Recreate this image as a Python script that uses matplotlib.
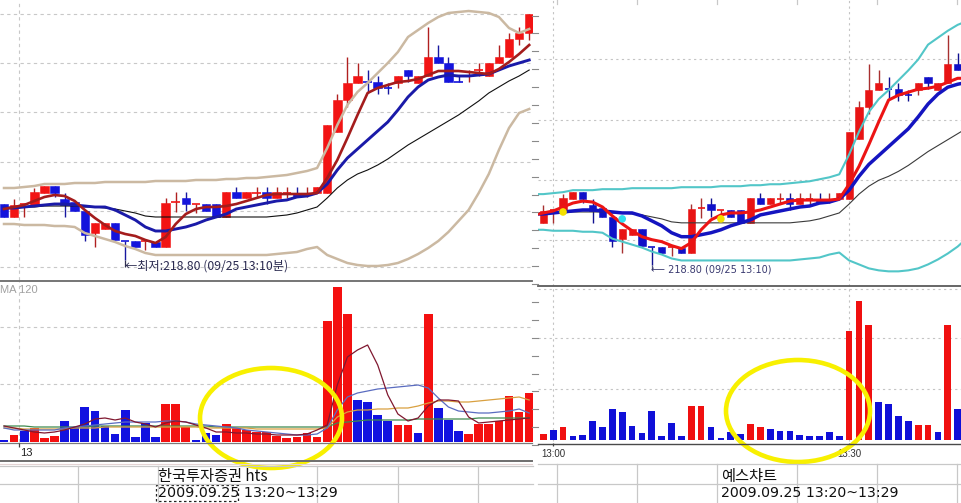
import matplotlib

matplotlib.use("Agg")

import matplotlib.pyplot as plt
import numpy as np
from matplotlib.patches import Ellipse, Rectangle

plt.rcParams["font.family"] = ["Noto Sans CJK KR", "DejaVu Sans"]

W, H = 961, 503

# one-minute KOSPI200 futures bars, 12:58 .. 13:50 (2009-09-25)
opens = [219.36, 219.23, 219.36, 219.35, 219.47, 219.54, 219.41, 219.38, 219.29, 219.07,
         219.11, 219.17, 218.99, 218.99, 218.99, 218.98, 218.93, 219.38, 219.42, 219.36,
         219.36, 219.36, 219.23, 219.48, 219.42, 219.47, 219.48, 219.42, 219.47, 219.47,
         219.45, 219.47, 219.47, 220.08, 220.40, 220.57, 220.58, 220.58, 220.52, 220.57,
         220.70, 220.57, 220.64, 220.83, 220.77, 220.58, 220.64, 220.70, 220.64, 220.77,
         220.83, 221.01, 221.07]
highs = [219.36, 219.41, 219.36, 219.52, 219.54, 219.54, 219.47, 219.38, 219.29, 219.17,
         219.17, 219.17, 218.99, 218.99, 218.99, 218.98, 219.42, 219.48, 219.48, 219.36,
         219.36, 219.36, 219.48, 219.53, 219.48, 219.53, 219.53, 219.53, 219.53, 219.53,
         219.53, 219.53, 220.15, 220.46, 220.83, 220.77, 220.70, 220.64, 220.57, 220.64,
         220.70, 220.64, 221.13, 220.95, 220.83, 220.64, 220.70, 220.77, 220.77, 220.95,
         221.07, 221.13, 221.26]
lows = [219.23, 219.23, 219.23, 219.35, 219.47, 219.43, 219.23, 219.29, 218.99, 218.93,
        219.11, 219.00, 218.80, 218.93, 218.90, 218.93, 218.93, 219.28, 219.29, 219.27,
        219.29, 219.23, 219.23, 219.42, 219.42, 219.42, 219.36, 219.42, 219.42, 219.43,
        219.43, 219.47, 219.47, 220.08, 220.33, 220.57, 220.47, 220.46, 220.46, 220.52,
        220.58, 220.57, 220.64, 220.77, 220.58, 220.58, 220.58, 220.64, 220.64, 220.77,
        220.83, 220.95, 221.00]
closes = [219.23, 219.35, 219.36, 219.48, 219.54, 219.47, 219.35, 219.29, 219.05, 219.17,
          219.17, 219.00, 218.99, 218.93, 218.99, 218.93, 219.37, 219.38, 219.36, 219.36,
          219.29, 219.23, 219.48, 219.42, 219.48, 219.47, 219.42, 219.48, 219.47, 219.43,
          219.45, 219.53, 220.15, 220.40, 220.57, 220.64, 220.58, 220.52, 220.52, 220.64,
          220.64, 220.64, 220.83, 220.77, 220.58, 220.58, 220.64, 220.70, 220.77, 220.83,
          221.01, 221.07, 221.26]
candle_colors = ["b", "r", "r", "r", "r", "b", "b", "b", "b", "r",
                 "r", "b", "b", "b", "r", "b", "r", "r", "b", "r",
                 "b", "b", "r", "b", "r", "r", "b", "r", "r", "b",
                 "r", "r", "r", "r", "r", "r", "b", "b", "b", "r",
                 "b", "r", "r", "b", "b", "b", "r", "r", "r", "r",
                 "r", "r", "r"]

ma_short = [219.31, 219.33, 219.35, 219.39, 219.43, 219.45, 219.44, 219.39, 219.30, 219.22,
            219.15, 219.09, 219.06, 219.04, 219.00, 218.97, 219.03, 219.16, 219.26, 219.31,
            219.33, 219.33, 219.34, 219.36, 219.39, 219.42, 219.45, 219.46, 219.46, 219.46,
            219.46, 219.47, 219.62, 219.80, 220.02, 220.25, 220.47, 220.52, 220.55, 220.58,
            220.59, 220.61, 220.65, 220.69, 220.69, 220.69, 220.68, 220.67, 220.66, 220.71,
            220.78, 220.86, 220.95]
ma_mid = [219.32, 219.32, 219.33, 219.34, 219.35, 219.36, 219.36, 219.35, 219.34, 219.33,
          219.33, 219.30, 219.25, 219.20, 219.13, 219.09, 219.09, 219.11, 219.13, 219.16,
          219.20, 219.23, 219.26, 219.31, 219.33, 219.35, 219.37, 219.39, 219.40, 219.43,
          219.44, 219.47, 219.56, 219.70, 219.82, 219.91, 220.00, 220.09, 220.18, 220.30,
          220.43, 220.53, 220.60, 220.63, 220.65, 220.64, 220.64, 220.65, 220.66, 220.70,
          220.74, 220.77, 220.80]
ma_long = [219.32, 219.32, 219.33, 219.33, 219.34, 219.34, 219.34, 219.34, 219.33, 219.33,
           219.32, 219.31, 219.29, 219.27, 219.24, 219.23, 219.23, 219.23, 219.23, 219.23,
           219.23, 219.23, 219.23, 219.23, 219.23, 219.23, 219.23, 219.24, 219.25, 219.27,
           219.30, 219.33, 219.42, 219.52, 219.60, 219.66, 219.70, 219.75, 219.81, 219.88,
           219.95, 220.01, 220.07, 220.13, 220.19, 220.25, 220.32, 220.39, 220.47, 220.53,
           220.59, 220.64, 220.70]
band_upper = [219.52, 219.52, 219.53, 219.54, 219.56, 219.56, 219.56, 219.57, 219.57, 219.57,
              219.58, 219.58, 219.58, 219.58, 219.58, 219.59, 219.59, 219.59, 219.59, 219.60,
              219.60, 219.60, 219.61, 219.61, 219.62, 219.62, 219.63, 219.64, 219.65, 219.67,
              219.69, 219.72, 219.92, 220.15, 220.35, 220.48, 220.57, 220.67, 220.77, 220.88,
              221.03, 221.10, 221.17, 221.23, 221.27, 221.28, 221.29, 221.28, 221.27, 221.23,
              221.12, 221.07, 221.11]
band_lower = [219.16, 219.16, 219.15, 219.15, 219.15, 219.14, 219.14, 219.13, 219.07, 219.04,
              219.01, 218.98, 218.94, 218.91, 218.87, 218.85, 218.85, 218.85, 218.85, 218.85,
              218.85, 218.85, 218.85, 218.85, 218.85, 218.85, 218.85, 218.86, 218.87, 218.88,
              218.91, 218.93, 218.85, 218.81, 218.77, 218.75, 218.74, 218.74, 218.75, 218.77,
              218.81, 218.86, 218.92, 218.99, 219.08, 219.19, 219.30, 219.47, 219.66, 219.90,
              220.12, 220.27, 220.31]

volume = [200, 700, 1100, 1400, 400, 600, 2100, 1500, 3500, 3100,
          1600, 800, 3200, 500, 1900, 500, 3800, 3800, 1500, 200,
          900, 700, 1800, 1400, 1200, 1000, 1000, 600, 400, 500,
          900, 500, 12100, 15500, 12800, 4200, 4000, 2700, 2100, 1700,
          1700, 900, 12800, 3400, 2200, 1100, 800, 1800, 1800, 2100,
          4600, 3000, 4900]
# hts colours (left) and yeschart colours (right, bars 12:59..13:41)
left_vol_colors = ["b", "r", "b", "r", "r", "r", "b", "b", "b", "b",
                   "b", "b", "b", "b", "b", "b", "r", "r", "r", "b",
                   "b", "b", "r", "r", "r", "r", "r", "r", "r", "r",
                   "r", "r", "r", "r", "r", "b", "b", "b", "b", "r",
                   "r", "b", "r", "b", "b", "b", "r", "r", "r", "r",
                   "r", "r", "r"]
right_vol_colors = ["r", "b", "r", "b", "b",
                    "b", "b", "b", "b", "b", "b", "b", "b", "b", "b",
                    "r", "r", "b", "b", "b", "b", "r", "r",
                    "b", "b", "b", "b", "b", "b", "b", "b",
                    "r", "r", "r", "b", "b", "b", "b", "r", "r", "b", "r", "b"]

vol_ma5 = [1600, 1400, 1200, 1000, 900, 1000, 1200, 1500, 1800, 2300,
           2400, 2200, 2400, 2000, 1800, 1500, 1900, 2100, 2000, 1700,
           1400, 1000, 1000, 900, 900, 800, 800, 700, 700, 700,
           800, 1200, 1700, 5700, 8500, 9200, 9700, 7700, 4700, 2800,
           2100, 2400, 3600, 4200, 4200, 4100, 2500, 1900, 2000, 2100,
           2200, 2300, 2400]
vol_ma10 = [1400, 1200, 1200, 1200, 1200, 1200, 1400, 1500, 1600, 1700,
            1800, 1900, 2000, 2000, 2000, 2000, 2100, 2100, 2000, 1800,
            1700, 1600, 1500, 1400, 1200, 1100, 1000, 900, 800, 700,
            700, 800, 1400, 3200, 4500, 4900, 5100, 5300, 5400, 5500,
            5600, 5700, 5400, 4400, 3500, 3100, 3000, 2900, 2900, 3000,
            3100, 3300, 2900]
vol_ma20 = [1400, 1400, 1300, 1300, 1300, 1300, 1300, 1400, 1400, 1400,
            1500, 1500, 1500, 1500, 1500, 1500, 1500, 1500, 1500, 1500,
            1400, 1400, 1400, 1400, 1400, 1300, 1300, 1300, 1300, 1300,
            1300, 1300, 1400, 2500, 3000, 3200, 3200, 3300, 3300, 3400,
            3400, 3600, 3900, 4100, 4100, 4000, 4000, 4100, 4200, 4300,
            4400, 4500, 4200]
vol_ma60 = [1600, 1600, 1600, 1500, 1500, 1500, 1500, 1500, 1500, 1600,
            1600, 1600, 1600, 1600, 1600, 1600, 1600, 1600, 1600, 1600,
            1600, 1500, 1500, 1500, 1500, 1500, 1500, 1500, 1500, 1500,
            1500, 1500, 1500, 1900, 2000, 2100, 2200, 2200, 2200, 2200,
            2200, 2300, 2300, 2300, 2300, 2300, 2300, 2400, 2400, 2400,
            2400, 2400, 2400]

cross_idx = [3, 9, 19]
cross_price = [219.34, 219.27, 219.27]
cross_colors = ["#f4e000", "#30e0f0", "#f4e000"]

low_idx = 12
left_price_grid = [221.26, 220.77, 220.28, 219.78, 219.29, 218.73]
right_price_grid = [220.88, 220.27, 219.66, 219.06]
left_vol_grid = [11500, 5800]
right_vol_grid = [16800, 11300, 5700]
left_hour_x = 1.45
right_time_idx = [2, 32]
right_time_labels = ["13:00", "13:30"]


def px_axes(fig, x0, y0, x1, y1):
    ax = fig.add_axes([x0 / W, 1 - y1 / H, (x1 - x0) / W, (y1 - y0) / H])
    ax.axis("off")
    return ax


def draw_candles(ax, idx, width, body, wick):
    for i in idx:
        o, h, l, c = opens[i], highs[i], lows[i], closes[i]
        k = candle_colors[i]
        ax.vlines(i, l, h, color=wick[k], lw=1, zorder=2)
        if abs(c - o) < 0.005:
            ax.hlines(o, i - width / 2, i + width / 2, color=body[k], lw=1.2, zorder=3)
        else:
            ax.bar(i, abs(c - o), bottom=min(o, c), width=width, color=body[k],
                   edgecolor=body[k], lw=0.4, zorder=3)


fig = plt.figure(figsize=(W / 100, H / 100), dpi=100)
fig.patch.set_facecolor("white")
idx_all = np.arange(len(opens))

# ---------------- left: hts ----------------
ax_lp = px_axes(fig, 0, 0, 533, 280)
ax_lp.set_xlim((0 - 4) / 10.1, (533 - 4) / 10.1)
ax_lp.set_ylim(218.60, 221.40)
for g in left_price_grid:
    ax_lp.axhline(g, color="#c8c8c8", lw=0.8, ls=(0, (3, 3)), zorder=0)
ax_lp.axvline(left_hour_x, color="#c8c8c8", lw=0.8, ls=(0, (3, 3)), zorder=0)
draw_candles(ax_lp, idx_all, 0.84,
             {"r": "#f21414", "b": "#1414dc"}, {"r": "#b02020", "b": "#1818a0"})
ax_lp.plot(idx_all, band_upper, color="#cbb9a2", lw=1.8, zorder=4)
ax_lp.plot(idx_all, band_lower, color="#cbb9a2", lw=1.8, zorder=4)
ax_lp.plot(idx_all, ma_long, color="#101010", lw=0.8, zorder=4)
ax_lp.plot(idx_all, ma_mid, color="#1a1aa8", lw=2.1, zorder=5)
ax_lp.plot(idx_all, ma_short, color="#a41c1c", lw=1.9, zorder=6)
ax_lp.vlines(low_idx, lows[low_idx] - 0.07, lows[low_idx], color="#303050", lw=0.9)
ax_lp.text(low_idx - 0.05, lows[low_idx] - 0.065, "←최저:218.80 (09/25 13:10분)",
           fontsize=8.8, color="#2a2a50", ha="left", va="center")

ax_lv = px_axes(fig, 0, 281, 533, 460)
ax_lv.set_xlim((0 - 4) / 10.1, (533 - 4) / 10.1)
ax_lv.set_ylim(-1800, 16100)
for g in left_vol_grid:
    ax_lv.axhline(g, color="#c8c8c8", lw=0.8, ls=(0, (3, 3)), zorder=0)
ax_lv.axvline(left_hour_x, ymin=0.1, color="#c8c8c8", lw=0.8, ls=(0, (3, 3)), zorder=0)
lv_pal = {"r": "#f41010", "b": "#1212e0"}
ax_lv.bar(idx_all, volume, width=0.86, color=[lv_pal[k] for k in left_vol_colors], zorder=2)
ax_lv.plot(idx_all, vol_ma60, color="#3f8a4f", lw=0.9, zorder=3)
ax_lv.plot(idx_all, vol_ma20, color="#d9a040", lw=0.9, zorder=3)
ax_lv.plot(idx_all, vol_ma10, color="#5a6cc0", lw=0.9, zorder=3)
ax_lv.plot(idx_all, vol_ma5, color="#801830", lw=0.9, zorder=4)
ax_lv.text(left_hour_x + 0.1, -1150, "13", fontsize=8, family="Liberation Sans",
           color="#202020", ha="left", va="center")

# ---------------- right: yeschart ----------------
r_lo, r_hi = 1 + (538 - 543.3) / 9.865, 1 + (961 - 543.3) / 9.865
idx_right = np.arange(1, 44)

ax_rp = px_axes(fig, 538, 0, 961, 286)
ax_rp.set_xlim(r_lo, r_hi)
ax_rp.set_ylim(218.592, 221.481)
for g in right_price_grid:
    ax_rp.axhline(g, color="#c4c4c4", lw=0.8, ls=(0, (2, 3)), zorder=0)
for t in right_time_idx:
    ax_rp.axvline(t, color="#c4c4c4", lw=0.8, ls=(0, (2, 3)), zorder=0)
draw_candles(ax_rp, idx_right, 0.72,
             {"r": "#e81414", "b": "#1010c8"}, {"r": "#a83030", "b": "#101090"})
ax_rp.plot(idx_all, band_upper, color="#52c6c8", lw=1.5, zorder=4)
ax_rp.plot(idx_all, band_lower, color="#52c6c8", lw=1.5, zorder=4)
ax_rp.plot(idx_all, ma_long, color="#3a3a3a", lw=0.8, zorder=4)
ax_rp.plot(idx_all, ma_mid, color="#1414c0", lw=2.5, zorder=5)
ax_rp.plot(idx_all, ma_short, color="#ec1414", lw=2.2, zorder=6)
ax_rp.scatter(cross_idx, cross_price, s=30, c=cross_colors, zorder=7, lw=0)
ax_rp.vlines(low_idx, lows[low_idx] - 0.05, lows[low_idx], color="#505080", lw=0.9)
ax_rp.text(low_idx - 0.05, lows[low_idx] - 0.045, "⟵ 218.80 (09/25 13:10)",
           fontsize=7, color="#3a3a70", ha="left", va="center",
           family=["DejaVu Sans"])

ax_rv = px_axes(fig, 538, 287, 961, 462)
ax_rv.set_xlim(r_lo, r_hi)
ax_rv.set_ylim(-2444, 17000)
for g in right_vol_grid:
    ax_rv.axhline(g, color="#c4c4c4", lw=0.8, ls=(0, (2, 3)), zorder=0)
for t in right_time_idx:
    ax_rv.axvline(t, ymin=0.12, color="#c4c4c4", lw=0.8, ls=(0, (2, 3)), zorder=0)
rv_pal = {"r": "#f01010", "b": "#1010d8"}
ax_rv.bar(idx_right, volume[1:44], width=0.68,
          color=[rv_pal[k] for k in right_vol_colors], zorder=2)
for t, lab in zip(right_time_idx, right_time_labels):
    ax_rv.vlines(t, -700, -300, color="#404040", lw=0.9)
    ax_rv.text(t, -1500, lab, fontsize=7, family="Liberation Sans",
               color="#303030", ha="center", va="center")

# ---------------- frame, table, marks ----------------
ov = fig.add_axes([0, 0, 1, 1])
ov.set_xlim(0, W)
ov.set_ylim(H, 0)
ov.axis("off")
ov.patch.set_alpha(0)

ov.plot([0, 532], [280.5, 280.5], color="#6a6a6a", lw=1.3)
ov.plot([0, 532], [443, 443], color="#7a7a7a", lw=0.9)
ov.vlines(left_hour_x * 10.1 + 4, 443, 447, color="#404040", lw=0.9)
ov.plot([0, 532], [460.5, 460.5], color="#6e6e6e", lw=1.4)
ov.plot([0, 532], [463.5, 463.5], color="#e4d4d4", lw=0.8)
ov.plot([538, 961], [286, 286], color="#5a5a5a", lw=1.3)
ov.plot([538, 961], [443.5, 443.5], color="#4a4a4a", lw=1.0)
for y in np.arange(15.5, 462, 17.9):
    ov.plot([532, 538], [y, y], color="#8a8a8a", lw=0.8)

ov.text(0.5, 290, "MA 120", fontsize=8, family="Liberation Sans", color="#a0a0a0",
        ha="left", va="center")

for y in [466, 484]:
    ov.plot([0, 533], [y, y], color="#c8c8c8", lw=0.9)
for x in [78, 158, 317, 398, 478]:
    ov.plot([x, x], [466, 503], color="#c8c8c8", lw=0.9)
for y in [464, 484]:
    ov.plot([538, 961], [y, y], color="#c8c8c8", lw=0.9)
for x in [557, 637, 717, 797, 877, 957]:
    ov.plot([x, x], [464, 503], color="#c8c8c8", lw=0.9)
    ov.plot([x, x], [0, 4], color="#c8c8c8", lw=0.9)

ov.text(158, 476, "한국투자증권 hts", fontsize=11, color="#111111", ha="left", va="center")
ov.text(158, 493, "2009.09.25 13:20~13:29", fontsize=10.3, family="DejaVu Sans",
        color="#111111", ha="left", va="center")
ov.add_patch(Rectangle((156, 484.5), 82, 16, fill=False, ec="#222222", lw=0.9, ls=(0, (2, 2))))
ov.text(721, 476, "예스챠트", fontsize=11, color="#111111", ha="left", va="center")
ov.text(721, 493, "2009.09.25 13:20~13:29", fontsize=10.2, family="DejaVu Sans",
        color="#111111", ha="left", va="center")

ov.add_patch(Ellipse((271, 418), 142, 100, fill=False, ec="#f8f000", lw=3.3))
ov.add_patch(Ellipse((798, 411), 144, 102, fill=False, ec="#f8f000", lw=3.3))

fig.savefig("out.png", dpi=100, facecolor="white")
